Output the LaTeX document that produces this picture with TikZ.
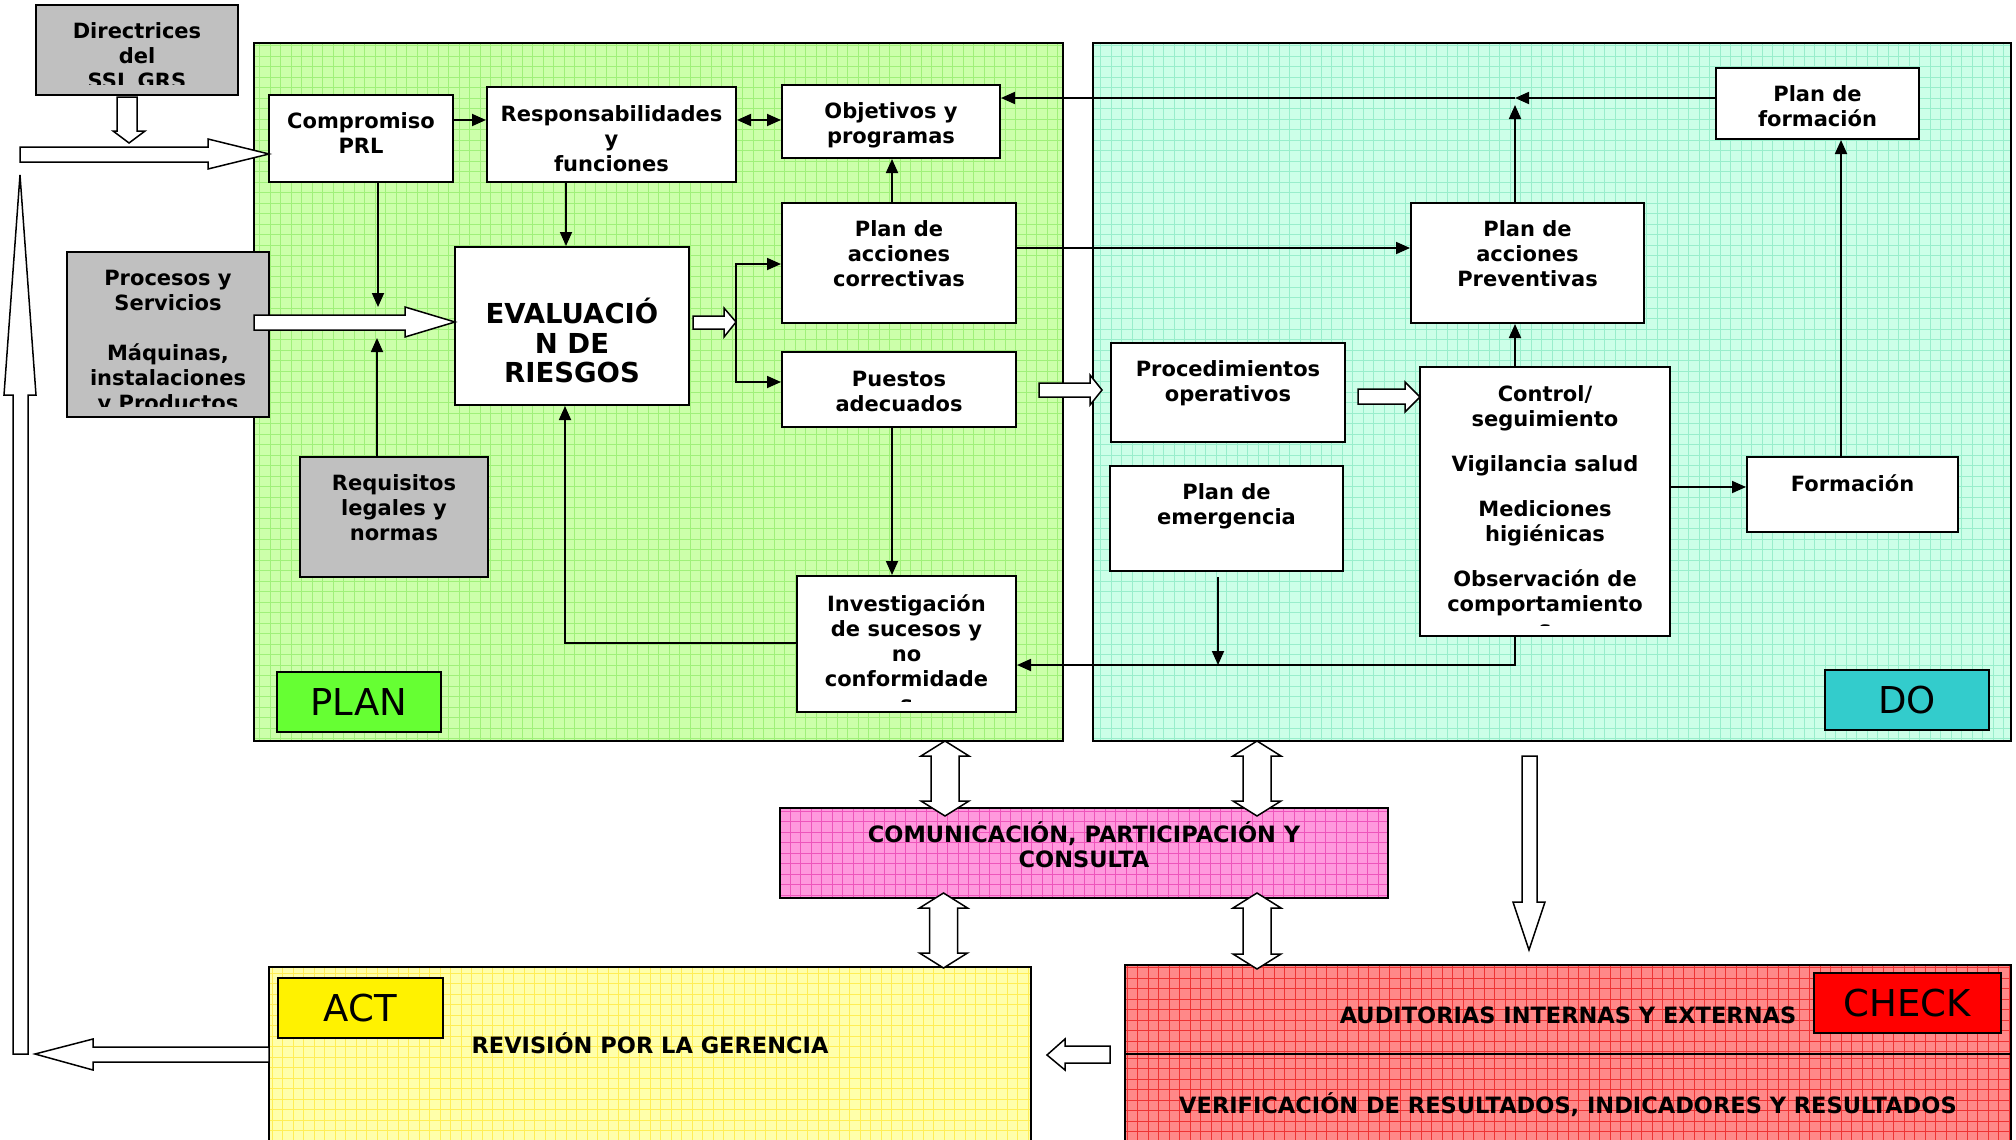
\documentclass[tikz,border=0pt]{standalone}
\usepackage{fontspec}
\setmainfont{DejaVu Sans}
\usepackage{tikz}
\usetikzlibrary{arrows.meta, calc}

\definecolor{plangreen}{HTML}{CCFFAA}
\definecolor{plangrid}{HTML}{A0F07A}
\definecolor{domint}{HTML}{CCFFE8}
\definecolor{dogrid}{HTML}{99EECC}
\definecolor{compink}{HTML}{FF99DD}
\definecolor{comgrid}{HTML}{EE55BB}
\definecolor{actyellow}{HTML}{FFFFAA}
\definecolor{actgrid}{HTML}{FFEE55}
\definecolor{checkred}{HTML}{FF8888}
\definecolor{checkgrid}{HTML}{EE3333}
\definecolor{boxgray}{HTML}{C0C0C0}
\definecolor{labgreen}{HTML}{66FF33}
\definecolor{labteal}{HTML}{33CCCC}

\newcommand{\bxfont}{\fontsize{21}{25}\selectfont\bfseries}
\newcommand{\rgfont}{\fontsize{22.5}{25}\selectfont\bfseries}
\newcommand{\evfont}{\fontsize{27.5}{29.5}\selectfont\bfseries}
\newcommand{\labfont}{\fontsize{37}{40}\selectfont}
\newcommand{\txtfont}{\bxfont}

\begin{document}
\begin{tikzpicture}[x=1pt, y=-1pt, >={Triangle[length=14pt, width=12pt]},
  conn/.style={line width=1.8pt, ->},
  hollow/.style={draw, line width=1.5pt, fill=white, line join=miter},
  box/.style={draw, line width=2pt, fill=white, inner sep=0pt},
  graybox/.style={box, fill=boxgray},
  lab/.style={draw, line width=1.5pt, inner sep=0pt, font=\labfont},
  txtfont/.code={\def\txtfont{#1}},
  txt/.style 2 args={path picture={
      \clip ([yshift=11pt]path picture bounding box.south west) rectangle (path picture bounding box.north east);
      \node[draw=none, fill=none, inner sep=0pt, minimum width=0pt, minimum height=0pt,
        anchor=north, align=center, font=\txtfont]
        at ([yshift=-#1]path picture bounding box.north) {#2};}},
  region/.style 2 args={draw, line width=2.5pt, fill=#1, inner sep=0pt, path picture={
      \draw[#2, line width=0.8pt] (path picture bounding box.south west) grid[step=10.5pt] (path picture bounding box.north east);}}]

  \useasboundingbox (0,0) rectangle (2016,1140);

  % the four areas and the communication band
  \node[region={plangreen}{plangrid}, minimum width=809pt, minimum height=698pt] (plan) at (658.5,392) {};
  \node[region={domint}{dogrid}, minimum width=918pt, minimum height=698pt] (do) at (1552,392) {};
  \node[region={compink}{comgrid}, minimum width=608pt, minimum height=90pt] (com) at (1084,853) {};
  \node[region={actyellow}{actgrid}, minimum width=762pt, minimum height=180pt] (act) at (650,1057) {};
  \node[region={checkred}{checkgrid}, minimum width=886pt, minimum height=89pt] (audit) at (1568,1009.5) {};
  \node[region={checkred}{checkgrid}, minimum width=886pt, minimum height=92pt] (verif) at (1568,1100) {};

  \node[font=\rgfont, align=center] (comtxt) at (1084,845) {COMUNICACIÓN, PARTICIPACIÓN Y\\CONSULTA};
  \node[font=\rgfont] (rev) at (650,1043) {REVISIÓN POR LA GERENCIA};
  \node[font=\rgfont] (audittxt) at (1568,1015) {AUDITORIAS INTERNAS Y EXTERNAS};
  \node[font=\rgfont] (veriftxt) at (1568,1105) {VERIFICACIÓN DE RESULTADOS, INDICADORES Y RESULTADOS};

  \node[lab, fill=labgreen, minimum width=164pt, minimum height=60pt] (planlab) at (359,702) {PLAN};
  \node[lab, fill=labteal, minimum width=164pt, minimum height=60pt] (dolab) at (1907,700) {DO};
  \node[lab, fill=yellow, minimum width=165pt, minimum height=60pt] (actlab) at (360.5,1008) {ACT};
  \node[lab, fill=red, minimum width=187pt, minimum height=60pt] (checklab) at (1907.5,1003) {CHECK};

  % inputs
  \node[graybox, minimum width=202pt, minimum height=90pt, txt={17pt}{Directrices\\del\\SSL GRS}] (dir) at (137,50) {};
  \node[graybox, minimum width=202pt, minimum height=165pt, txt={17pt}{Procesos y\\Servicios\\[25pt]Máquinas,\\instalaciones\\y Productos}] (proc) at (168,334.5) {};
  \node[graybox, minimum width=188pt, minimum height=120pt, txt={17pt}{Requisitos\\legales y\\normas}] (req) at (394,517) {};

  % plan
  \node[box, minimum width=184pt, minimum height=87pt, txt={17pt}{Compromiso\\PRL}] (comp) at (361,138.5) {};
  \node[box, minimum width=249pt, minimum height=95pt, txt={18pt}{Responsabilidades\\y\\funciones}] (resp) at (611.5,134.5) {};
  \node[box, minimum width=218pt, minimum height=73pt, txt={17pt}{Objetivos y\\programas}] (obj) at (891,121.5) {};
  \node[box, minimum width=234pt, minimum height=158pt, txtfont=\evfont, txt={50pt}{EVALUACIÓ\\N DE\\RIESGOS}] (eval) at (572,326) {};
  \node[box, minimum width=234pt, minimum height=120pt, txt={17pt}{Plan de\\acciones\\correctivas}] (pcorr) at (899,263) {};
  \node[box, minimum width=234pt, minimum height=75pt, txt={18pt}{Puestos\\adecuados}] (puestos) at (899,389.5) {};
  \node[box, minimum width=219pt, minimum height=136pt, txt={18pt}{Investigación\\de sucesos y\\no\\conformidade\\s}] (invest) at (906.5,644) {};

  % do
  \node[box, minimum width=203pt, minimum height=71pt, txt={17pt}{Plan de\\formación}] (pform) at (1817.5,103.5) {};
  \node[box, minimum width=233pt, minimum height=120pt, txt={17pt}{Plan de\\acciones\\Preventivas}] (pprev) at (1527.5,263) {};
  \node[box, minimum width=234pt, minimum height=99pt, txt={17pt}{Procedimientos\\operativos}] (proced) at (1228,392.5) {};
  \node[box, minimum width=250pt, minimum height=269pt, txt={18pt}{Control/\\seguimiento\\[20pt]Vigilancia salud\\[20pt]Mediciones\\higiénicas\\[20pt]Observación de\\comportamiento\\s}] (ctrl) at (1545,501.5) {};
  \node[box, minimum width=233pt, minimum height=105pt, txt={17pt}{Plan de\\emergencia}] (emerg) at (1226.5,518.5) {};
  \node[box, minimum width=211pt, minimum height=75pt, txt={17pt}{Formación}] (formac) at (1852.5,494.5) {};

  \coordinate (compend) at (378,307);
  \coordinate (reqend) at (377,338);
  \coordinate (fork) at (736,322);
  \coordinate (junc) at (1515,98);
  \coordinate (juncb) at (1515,105);
  \coordinate (emergend) at (1218,665);

  % connectors
  \draw[conn] (comp.east |- 0,120) -- (resp.west |- 0,120);
  \draw[conn, <->] (resp.east |- 0,120) -- (obj.west |- 0,120);
  \draw[conn] (comp.south -| compend) -- (compend);
  \draw[conn] (req.north -| reqend) -- (reqend);
  \draw[conn] (resp.south -| 566,0) -- (eval.north -| 566,0);
  \draw[conn] (pcorr.north -| 892,0) -- (obj.south -| 892,0);
  \draw[conn] (fork) |- (pcorr.west |- 0,264);
  \draw[conn] (fork) |- (puestos.west |- 0,382);
  \draw[conn] (puestos.south -| 892,0) -- (invest.north -| 892,0);
  \draw[conn] (invest.west |- 0,643) -| (eval.south -| 565,0);
  \draw[conn] (pcorr.east |- 0,248) -- (pprev.west |- 0,248);
  \draw[conn] (pform.west |- junc) -- (junc);
  \draw[conn] (junc) -- (obj.east |- junc);
  \draw[conn] (pprev.north -| junc) -- (juncb);
  \draw[conn] (ctrl.north -| junc) -- (pprev.south -| junc);
  \draw[conn] (ctrl.east |- 0,487) -- (formac.west |- 0,487);
  \draw[conn] (formac.north -| 1841,0) -- (pform.south -| 1841,0);
  \draw[conn, shorten <=5pt] (emerg.south -| emergend) -- (emergend);
  \draw[conn] (ctrl.south -| junc) |- (invest.east |- emergend);

  % block arrows
  \draw[hollow] (117,97) -- (137,97) -- (137,131) -- (145,131) -- (129,143) -- (113,131) -- (117,131) -- cycle;
  \draw[hollow] (20,147) -- (208,147) -- (208,139) -- (269,154) -- (208,169) -- (208,162) -- (20,162) -- cycle;
  \draw[hollow] (254,315) -- (405,315) -- (405,307) -- (455,322) -- (405,337) -- (405,330) -- (254,330) -- cycle;
  \draw[hollow] (693,316) -- (724,316) -- (724,308) -- (736,322) -- (724,337) -- (724,329) -- (693,329) -- cycle;
  \draw[hollow] (1039,383) -- (1090,383) -- (1090,375) -- (1102,390) -- (1090,405) -- (1090,397) -- (1039,397) -- cycle;
  \draw[hollow] (1358,389) -- (1405,389) -- (1405,382) -- (1420,397) -- (1405,412) -- (1405,404) -- (1358,404) -- cycle;
  \draw[hollow] (13,1054) -- (13,395) -- (4,395) -- (20,175) -- (36,395) -- (28,395) -- (28,1054) -- cycle;
  \draw[hollow] (269,1047) -- (93,1047) -- (93,1039) -- (35,1054) -- (93,1070) -- (93,1062) -- (269,1062) -- cycle;
  \draw[hollow] (1110,1046) -- (1065,1046) -- (1065,1039) -- (1047,1055) -- (1065,1070) -- (1065,1063) -- (1110,1063) -- cycle;
  \draw[hollow] (1522,756) -- (1537,756) -- (1537,902) -- (1545,902) -- (1529,950) -- (1513,902) -- (1522,902) -- cycle;

  \draw[hollow] (945,741) -- ++(24,15) -- ++(-10,0) -- ++(0,45) -- ++(10,0) -- ++(-24,15) -- ++(-24,-15) -- ++(10,0) -- ++(0,-45) -- ++(-10,0) -- cycle;
  \draw[hollow] (943.5,893) -- ++(24,15) -- ++(-10,0) -- ++(0,45) -- ++(10,0) -- ++(-24,15) -- ++(-24,-15) -- ++(10,0) -- ++(0,-45) -- ++(-10,0) -- cycle;
  \draw[hollow] (1257,741) -- ++(24,15) -- ++(-10,0) -- ++(0,45) -- ++(10,0) -- ++(-24,15) -- ++(-24,-15) -- ++(10,0) -- ++(0,-45) -- ++(-10,0) -- cycle;
  \draw[hollow] (1257,893) -- ++(24,15) -- ++(-10,0) -- ++(0,46) -- ++(10,0) -- ++(-24,15) -- ++(-24,-15) -- ++(10,0) -- ++(0,-46) -- ++(-10,0) -- cycle;

\end{tikzpicture}
\end{document}
